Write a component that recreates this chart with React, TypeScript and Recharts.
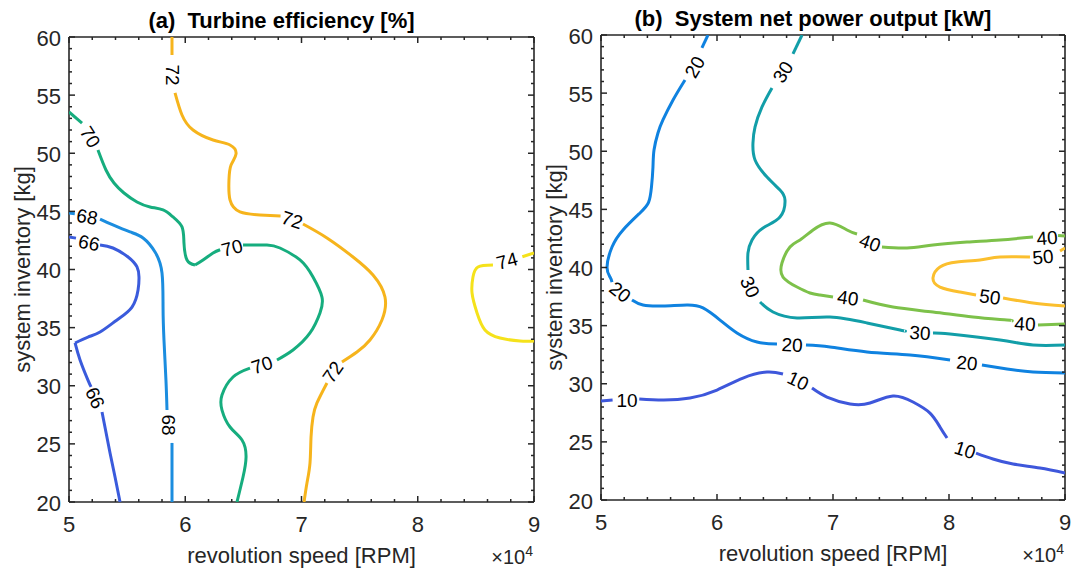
import { ScatterChart, Scatter, XAxis, YAxis, Label } from "recharts";

type Seg = [number, number][];
type Tag = [number, number, number]; // level, x, y

const FONT = "'Liberation Sans', Arial, Helvetica, sans-serif";
const INK = "#262626";

// x: revolution speed in 1e4 RPM, y: system inventory in kg
const X_MAJOR = [5, 6, 7, 8, 9];
const Y_MAJOR = [20, 25, 30, 35, 40, 45, 50, 55, 60];
const X_TICKS = Array.from({ length: 21 }, (_, i) => Math.round((5 + i * 0.2) * 10) / 10);
const Y_TICKS = Array.from({ length: 41 }, (_, i) => 20 + i);

// (a) turbine efficiency [%]
const EFF_LEVELS = [66, 68, 70, 72, 74];
const EFF_COLORS = ["#3a5bdc", "#1b8ddf", "#16ad7e", "#f6b41c", "#f5e21b"];

const EFF_66: Seg[] = [
  [[5.0, 42.8], [5.06, 42.7]],
  [[5.267, 42.11], [5.378, 41.85], [5.508, 41.08], [5.585, 40.22], [5.602, 39.35], [5.594, 38.24], [5.542, 36.77], [5.413, 35.66], [5.267, 34.62], [5.163, 34.19], [5.052, 33.68]],
  [[5.052, 33.68], [5.095, 32.22], [5.163, 30.49], [5.19, 29.9]],
  [[5.284, 27.74], [5.353, 24.22], [5.396, 22.15], [5.439, 20.0]],
];
const EFF_68: Seg[] = [
  [[5.0, 44.86], [5.05, 44.8]],
  [[5.267, 44.34], [5.378, 43.83], [5.525, 43.23], [5.637, 42.71], [5.74, 41.51], [5.8, 39.7], [5.809, 36.77], [5.817, 33.94], [5.834, 30.49], [5.843, 27.91]],
  [[5.886, 25.08], [5.886, 22.75], [5.886, 20.0]],
];
const EFF_70: Seg[] = [
  [[5.0, 53.55], [5.112, 52.6]],
  [[5.249, 50.28], [5.318, 48.56], [5.387, 47.44], [5.473, 46.58], [5.585, 45.81], [5.697, 45.38], [5.809, 45.12], [5.895, 44.52], [5.972, 43.66], [5.989, 42.28], [6.015, 40.82], [6.084, 40.39]],
  [[6.084, 40.39], [6.153, 40.82], [6.239, 41.42], [6.3, 41.7]],
  [[6.497, 42.11], [6.703, 42.11], [6.815, 41.85], [6.987, 40.82], [7.099, 39.35], [7.176, 37.63], [7.159, 36.26], [7.073, 34.54], [6.927, 33.08], [6.789, 32.22]],
  [[6.557, 31.52], [6.411, 30.75], [6.316, 29.2], [6.316, 27.91], [6.385, 26.45], [6.488, 25.33], [6.523, 23.87], [6.497, 22.15], [6.445, 20.0]],
];
const EFF_72: Seg[] = [
  [[5.886, 60.0], [5.886, 58.45]],
  [[5.912, 55.2], [5.972, 53.29], [6.067, 52.0], [6.239, 51.14], [6.385, 50.71], [6.437, 49.94], [6.394, 48.99], [6.376, 47.7], [6.385, 45.98], [6.471, 44.95], [6.643, 44.69], [6.82, 44.6]],
  [[7.013, 43.91], [7.219, 42.71], [7.443, 41.08], [7.615, 39.53], [7.718, 37.63], [7.692, 35.66], [7.589, 33.94], [7.477, 32.9], [7.348, 32.04]],
  [[7.219, 30.24], [7.133, 28.52], [7.099, 27.31], [7.082, 25.59], [7.073, 23.35], [7.047, 21.63], [7.022, 20.0]],
];
const EFF_74: Seg[] = [
  [[9.0, 41.42], [8.9, 41.1]],
  [[8.647, 40.39], [8.518, 40.22], [8.475, 39.35], [8.467, 37.98], [8.51, 36.26], [8.578, 34.8], [8.708, 34.11], [8.88, 33.85], [9.0, 33.85]],
];
const EFF_TAGS: Tag[] = [
  [66, 5.172, 42.28], [66, 5.224, 28.95],
  [68, 5.155, 44.52], [68, 5.852, 26.62],
  [70, 5.181, 51.4], [70, 6.402, 41.85], [70, 6.66, 31.78],
  [72, 5.886, 56.73], [72, 6.918, 44.26], [72, 7.271, 31.18],
  [74, 8.768, 40.73],
];
const EFF_ANGLES = [12, 66, 10, 90, 58, -15, -18, 90, 18, -55, -15];

// (b) system net power output [kW]
const PWR_LEVELS = [10, 20, 30, 40, 50];
const PWR_COLORS = ["#3e57db", "#0f82e0", "#129ea8", "#7dc14a", "#fbbf2e"];

const PWR_10: Seg[] = [
  [[5.0, 28.52], [5.1, 28.6]],
  [[5.33, 28.69], [5.534, 28.6], [5.767, 28.77], [6.0, 29.46], [6.224, 30.49], [6.431, 31.01], [6.569, 30.84]],
  [[6.819, 29.63], [6.948, 28.86], [7.147, 28.26], [7.319, 28.34], [7.517, 28.95], [7.69, 28.43], [7.836, 27.48], [7.922, 26.28], [7.983, 25.33]],
  [[8.233, 24.04], [8.379, 23.53], [8.552, 23.1], [8.784, 22.75], [9.0, 22.32]],
];
const PWR_20: Seg[] = [
  [[5.922, 60.0], [5.87, 58.9]],
  [[5.724, 56.13], [5.621, 54.41], [5.534, 52.69], [5.491, 51.57], [5.457, 50.11], [5.448, 48.65], [5.435, 46.92], [5.41, 45.6], [5.336, 44.69], [5.19, 43.23], [5.095, 41.76], [5.052, 40.04], [5.078, 39.18], [5.095, 38.75]],
  [[5.267, 37.2], [5.362, 36.77], [5.534, 36.69], [5.741, 36.77], [5.879, 36.52], [6.026, 35.48], [6.172, 34.37], [6.345, 33.59], [6.517, 33.42]],
  [[6.767, 33.33], [6.974, 33.16], [7.293, 32.73], [7.664, 32.47], [8.009, 32.04]],
  [[8.284, 31.61], [8.5, 31.27], [8.724, 31.01], [9.0, 30.92]],
];
const PWR_30: Seg[] = [
  [[6.733, 60.0], [6.655, 58.37]],
  [[6.474, 55.44], [6.388, 53.81], [6.328, 52.09], [6.31, 50.71], [6.328, 49.25], [6.431, 47.78], [6.543, 46.67], [6.586, 45.81], [6.543, 44.34], [6.397, 43.4], [6.302, 42.37], [6.267, 41.25], [6.267, 39.78]],
  [[6.371, 37.03], [6.483, 36.17], [6.69, 35.66], [6.974, 35.74], [7.293, 35.23], [7.578, 34.62], [7.62, 34.55]],
  [[7.862, 34.37], [8.009, 34.28], [8.44, 33.76], [8.724, 33.33], [9.0, 33.33]],
];
const PWR_40: Seg[] = [
  [[9.0, 42.71], [8.94, 42.75]],
  [[8.724, 42.62], [8.44, 42.37], [8.155, 42.19], [7.862, 41.94], [7.638, 41.68], [7.422, 41.76]],
  [[7.207, 42.88], [7.121, 43.23], [6.974, 43.83], [6.828, 43.23], [6.716, 42.37], [6.629, 41.76], [6.56, 40.39], [6.569, 39.18], [6.69, 38.32], [6.802, 37.81], [6.888, 37.63], [7.0, 37.46]],
  [[7.259, 37.2], [7.517, 36.6], [7.862, 36.17], [8.207, 35.74], [8.5, 35.48], [8.54, 35.4]],
  [[8.767, 35.05], [9.0, 35.14]],
];
const PWR_50: Seg[] = [
  [[9.0, 41.68], [8.957, 41.42]],
  [[8.698, 40.9], [8.44, 40.9], [8.267, 40.65], [8.069, 40.47], [7.922, 40.04], [7.862, 39.1], [7.922, 38.32], [8.095, 37.89], [8.233, 37.63]],
  [[8.466, 37.38], [8.724, 36.95], [9.0, 36.69]],
];
const PWR_TAGS: Tag[] = [
  [10, 5.224, 28.6], [10, 6.698, 30.24], [10, 8.138, 24.3],
  [20, 5.81, 57.25], [20, 5.164, 37.89], [20, 6.647, 33.33], [20, 8.155, 31.78],
  [30, 6.569, 56.82], [30, 6.284, 38.32], [30, 7.75, 34.37],
  [40, 7.319, 42.11], [40, 8.845, 42.54], [40, 7.129, 37.38], [40, 8.655, 35.14],
  [50, 8.81, 40.9], [50, 8.353, 37.46],
];
const PWR_ANGLES = [0, 25, 18, -60, 38, 3, 6, -58, 65, 4, 20, -4, 8, 3, -5, 8];

const MAJOR_LEN = 6;
const MINOR_LEN = 3;
const TICK_W = 1.5;

function BottomTick({ x, y, payload }: any) {
  const major = X_MAJOR.includes(payload.value);
  return (
    <g>
      <line x1={x} y1={y} x2={x} y2={y - (major ? MAJOR_LEN : MINOR_LEN)} stroke={INK} strokeWidth={TICK_W} />
      {major && (
        <text x={x} y={y + 30} textAnchor="middle" fontSize={22} fill={INK}>
          {payload.value}
        </text>
      )}
    </g>
  );
}

function TopTick({ x, y, payload }: any) {
  const major = X_MAJOR.includes(payload.value);
  return <line x1={x} y1={y} x2={x} y2={y + (major ? MAJOR_LEN : MINOR_LEN)} stroke={INK} strokeWidth={TICK_W} />;
}

function LeftTick({ x, y, payload }: any) {
  const major = Y_MAJOR.includes(payload.value);
  return (
    <g>
      <line x1={x} y1={y} x2={x + (major ? MAJOR_LEN : MINOR_LEN)} y2={y} stroke={INK} strokeWidth={TICK_W} />
      {major && (
        <text x={x - 8} y={y + 8.5} textAnchor="end" fontSize={22} fill={INK}>
          {payload.value}
        </text>
      )}
    </g>
  );
}

function RightTick({ x, y, payload }: any) {
  const major = Y_MAJOR.includes(payload.value);
  return <line x1={x} y1={y} x2={x - (major ? MAJOR_LEN : MINOR_LEN)} y2={y} stroke={INK} strokeWidth={TICK_W} />;
}

const noDot = () => <g />;

function TagShape({ cx, cy, payload }: any) {
  return (
    <text
      x={cx}
      y={cy}
      transform={`rotate(${payload.angle} ${cx} ${cy})`}
      textAnchor="middle"
      dominantBaseline="central"
      fontSize={19}
      fill="#000"
    >
      {payload.level}
    </text>
  );
}

function XTitle({ viewBox }: any) {
  const { x, y, width } = viewBox;
  return (
    <g fill={INK}>
      <text x={x + width / 2} y={y + 61} textAnchor="middle" fontSize={22}>
        revolution speed [RPM]
      </text>
      <text x={x + width - 1} y={y + 62} textAnchor="end" fontSize={20}>
        ×10
        <tspan dy={-8} fontSize={14}>
          4
        </tspan>
      </text>
    </g>
  );
}

function YTitle({ viewBox }: any) {
  const { x, y, width, height } = viewBox;
  const cx = x + width - 39;
  const cy = y + height / 2;
  return (
    <text x={cx} y={cy} transform={`rotate(-90 ${cx} ${cy})`} textAnchor="middle" fontSize={22} fill={INK}>
      system inventory [kg]
    </text>
  );
}

interface PanelProps {
  left: number;
  width: number;
  plotTop: number;
  axisWidth: number;
  rightGap: number;
  axisHeight: number;
  title: string;
  lines: Seg[][];
  colors: string[];
  levels: number[];
  tags: Tag[];
  angles: number[];
}

function ContourPanel(p: PanelProps) {
  const tagData = p.tags.map(([level, x, y], i) => ({ x, y, level, angle: p.angles[i] }));
  const axis = { stroke: INK, strokeWidth: 1.6 };

  // the top axis is 1px tall, so its line sits at viewBox.y + 1
  const renderTitle = ({ viewBox }: any) => (
    <text
      x={viewBox.x + viewBox.width / 2 - 20}
      y={viewBox.y + 1 - 9}
      textAnchor="middle"
      fontSize={22}
      fontWeight="bold"
      fill="#000"
      style={{ whiteSpace: "pre" }}
    >
      {p.title}
    </text>
  );

  return (
    <div style={{ position: "absolute", left: p.left, top: 0 }}>
      <ScatterChart
        width={p.width}
        height={572}
        margin={{ top: p.plotTop - 1, right: p.rightGap - 1, bottom: 0, left: 0 }}
      >
        <XAxis
          dataKey="x"
          type="number"
          domain={[5, 9]}
          ticks={X_TICKS}
          interval={0}
          allowDataOverflow
          height={p.axisHeight}
          tickSize={0}
          tickMargin={0}
          tick={BottomTick}
          axisLine={axis}
        >
          <Label content={XTitle} />
        </XAxis>
        <XAxis
          xAxisId="top"
          orientation="top"
          dataKey="x"
          type="number"
          domain={[5, 9]}
          ticks={X_TICKS}
          interval={0}
          allowDataOverflow
          height={1}
          tickSize={0}
          tickMargin={0}
          tick={TopTick}
          axisLine={axis}
        >
          <Label content={renderTitle} />
        </XAxis>
        <YAxis
          dataKey="y"
          type="number"
          domain={[20, 60]}
          ticks={Y_TICKS}
          interval={0}
          allowDataOverflow
          width={p.axisWidth}
          tickSize={0}
          tickMargin={0}
          tick={LeftTick}
          axisLine={axis}
        >
          <Label content={YTitle} />
        </YAxis>
        <YAxis
          yAxisId="right"
          orientation="right"
          dataKey="y"
          type="number"
          domain={[20, 60]}
          ticks={Y_TICKS}
          interval={0}
          allowDataOverflow
          width={1}
          tickSize={0}
          tickMargin={0}
          tick={RightTick}
          axisLine={axis}
        />
        {p.lines.flatMap((segs, i) =>
          segs.map((seg, j) => (
            <Scatter
              key={`${p.levels[i]}-${j}`}
              data={seg.map(([x, y]) => ({ x, y }))}
              line={{ stroke: p.colors[i], strokeWidth: 3 }}
              lineJointType="natural"
              shape={noDot}
              isAnimationActive={false}
            />
          ))
        )}
        {/* level labels sit on the top/right axis pair (same domains) */}
        <Scatter
          xAxisId="top"
          yAxisId="right"
          data={tagData}
          shape={TagShape}
          isAnimationActive={false}
        />
      </ScatterChart>
    </div>
  );
}

export default function App() {
  return (
    <div
      style={{
        position: "absolute",
        left: 0,
        top: 0,
        width: 1072,
        height: 572,
        background: "#fff",
        fontFamily: FONT,
      }}
    >
      <ContourPanel
        left={0}
        width={540}
        plotTop={37}
        axisWidth={69}
        rightGap={6}
        axisHeight={70}
        title="(a)  Turbine efficiency [%]"
        lines={[EFF_66, EFF_68, EFF_70, EFF_72, EFF_74]}
        colors={EFF_COLORS}
        levels={EFF_LEVELS}
        tags={EFF_TAGS}
        angles={EFF_ANGLES}
      />
      <ContourPanel
        left={536}
        width={536}
        plotTop={35}
        axisWidth={65}
        rightGap={7}
        axisHeight={72}
        title="(b)  System net power output [kW]"
        lines={[PWR_10, PWR_20, PWR_30, PWR_40, PWR_50]}
        colors={PWR_COLORS}
        levels={PWR_LEVELS}
        tags={PWR_TAGS}
        angles={PWR_ANGLES}
      />
    </div>
  );
}
